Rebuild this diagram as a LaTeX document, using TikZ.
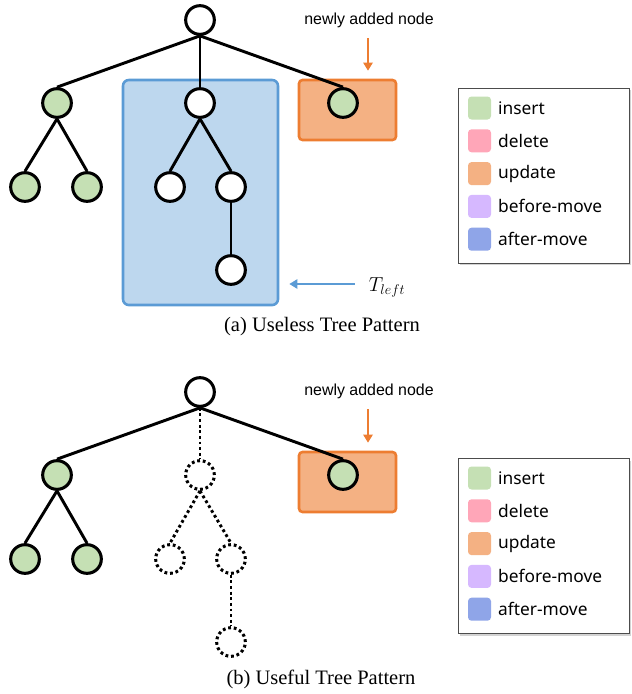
\documentclass[tikz,border=0pt]{standalone}
\usepackage{fontspec}
\setmainfont{Liberation Serif}
\newfontfamily\labelfont{Liberation Sans}
\newfontfamily\legendfont{Noto Sans}
\usetikzlibrary{positioning, arrows.meta, shadows, backgrounds}

\definecolor{insertcol}{HTML}{C5E0B4}
\definecolor{deletecol}{HTML}{FFA6B8}
\definecolor{updatecol}{HTML}{F4B183}
\definecolor{beforecol}{HTML}{D6B8FF}
\definecolor{aftercol}{HTML}{8FA5E8}
\definecolor{tleftfill}{HTML}{BDD7EE}
\definecolor{tleftline}{HTML}{5B9BD5}
\definecolor{updline}{HTML}{ED7D31}

\begin{document}
\begin{tikzpicture}[
		x=0.03cm, y=-0.03cm,
		% nodos del arbol
		tnode/.style = {circle, draw, line width=2.6pt, minimum size=0.86cm, inner sep=0pt, fill=white,
			drop shadow={shadow xshift=1.2pt, shadow yshift=-1.2pt, opacity=0.3}},
		ins/.style = {tnode, fill=insertcol},
		ghost/.style = {circle, draw, line width=2.6pt, dash pattern=on 2.4pt off 2.4pt, minimum size=0.86cm, inner sep=0pt},
		edge/.style = {line width=2.5pt},
		dotedge/.style = {line width=2.5pt, dash pattern=on 2.4pt off 2.4pt},
		% cajas
		tleftbox/.style = {draw=tleftline, fill=tleftfill, line width=2.2pt, rounded corners=5pt, minimum width=4.65cm, minimum height=6.75cm},
		updbox/.style = {draw=updline, fill=updatecol, line width=2.2pt, rounded corners=3pt, minimum width=2.91cm, minimum height=1.8cm},
		% leyenda
		legbox/.style = {draw=black!70, line width=0.8pt, fill=white, minimum width=5.13cm, minimum height=5.25cm,
			drop shadow={shadow xshift=2pt, shadow yshift=-2pt, opacity=0.35}},
		swatch/.style = {rectangle, rounded corners=3pt, minimum size=0.69cm, inner sep=0pt},
		legtext/.style = {font=\legendfont\fontsize{14.8}{17}\selectfont, inner sep=0pt},
		note/.style = {font=\labelfont\fontsize{13.6}{16}\selectfont},
		caption/.style = {font=\fontsize{17.5}{20}\selectfont},
		>={Triangle[width=8pt, length=7pt]}
		]
		\useasboundingbox (0,0) rectangle (631,694);
		
		% --- PARTE (a): Useless Tree Pattern ---
		\node [tleftbox] (useless) at (200.5,192.5) {};
		\node [updbox] (upd1) at (347.5,110) {};
		
		\node [tnode] (root1) at (200,20) {};
		\node [ins] (l1) at (57,103) {};
		\node [tnode] (m1) at (200,103) {};
		\node [ins] (r1) at (343,103) {};
		\node [ins] (ll1) at (25,187) {};
		\node [ins] (lr1) at (87,187) {};
		\node [tnode] (ml1) at (170,187) {};
		\node [tnode] (mr1) at (231,187) {};
		\node [tnode] (mb1) at (231,270) {};
		
		\draw [edge] (root1.south) -- (l1.north);
		\draw [edge] (root1.south) -- (m1.north);
		\draw [edge] (root1.south) -- (r1.north);
		\draw [edge] (l1.south) -- (ll1.north);
		\draw [edge] (l1.south) -- (lr1.north);
		\draw [edge] (m1.south) -- (ml1.north);
		\draw [edge] (m1.south) -- (mr1.north);
		\draw [edge] (mr1.south) -- (mb1.north);
		
		\node [note] (new1) at (369,20) {newly added node};
		\draw [->, draw=updline, fill=updline, line width=2pt, shorten <=0.2cm, shorten >=0.24cm] (new1.south -| 368,0) -- (upd1.north -| 368,0);
		
		\node [font=\fontsize{18}{20}\selectfont] (tleft) at (387,287) {$T_{left}$};
		\draw [->, draw=tleftline, fill=tleftline, line width=2pt, shorten <=0.3cm, shorten >=0.3cm] (tleft.west |- 0,284) -- (useless.east |- 0,284);
		
		\node [caption] (capa) at (322,327) {(a) Useless Tree Pattern};
		
		% leyenda (a)
		\node [legbox] (leg1) at (543.5,175.5) {};
		\node [swatch, fill=insertcol] (sa1) at (479.5,108) {};
		\node [swatch, fill=deletecol, below=0.28cm of sa1] (sb1) {};
		\node [swatch, fill=updatecol, below=0.28cm of sb1] (sc1) {};
		\node [swatch, fill=beforecol, below=0.28cm of sc1] (sd1) {};
		\node [swatch, fill=aftercol, below=0.28cm of sd1] (se1) {};
		\node [legtext, right=0.2cm of sa1] (ta1) {insert};
		\node [legtext, right=0.2cm of sb1] (tb1) {delete};
		\node [legtext, right=0.2cm of sc1] (tc1) {update};
		\node [legtext, right=0.2cm of sd1] (td1) {before-move};
		\node [legtext, right=0.2cm of se1] (te1) {after-move};
		
		% --- PARTE (b): Useful Tree Pattern ---
		\node [updbox] (upd2) at (347.5,482) {};
		
		\node [tnode] (root2) at (200,392) {};
		\node [ins] (l2) at (57,475) {};
		\node [ghost] (m2) at (200,475) {};
		\node [ins] (r2) at (343,475) {};
		\node [ins] (ll2) at (25,559) {};
		\node [ins] (lr2) at (87,559) {};
		\node [ghost] (ml2) at (170,559) {};
		\node [ghost] (mr2) at (231,559) {};
		\node [ghost] (mb2) at (231,642) {};
		
		\draw [edge] (root2.south) -- (l2.north);
		\draw [dotedge] (root2.south) -- (m2.north);
		\draw [edge] (root2.south) -- (r2.north);
		\draw [edge] (l2.south) -- (ll2.north);
		\draw [edge] (l2.south) -- (lr2.north);
		\draw [dotedge] (m2.south) -- (ml2.north);
		\draw [dotedge] (m2.south) -- (mr2.north);
		\draw [dotedge] (mr2.south) -- (mb2.north);
		
		\node [note] (new2) at (369,391) {newly added node};
		\draw [->, draw=updline, fill=updline, line width=2pt, shorten <=0.2cm, shorten >=0.24cm] (new2.south -| 368,0) -- (upd2.north -| 368,0);
		
		\node [caption] (capb) at (321,679) {(b) Useful Tree Pattern};
		
		% leyenda (b)
		\node [legbox] (leg2) at (543.5,546) {};
		\node [swatch, fill=insertcol] (sa2) at (479.5,478) {};
		\node [swatch, fill=deletecol, below=0.28cm of sa2] (sb2) {};
		\node [swatch, fill=updatecol, below=0.28cm of sb2] (sc2) {};
		\node [swatch, fill=beforecol, below=0.28cm of sc2] (sd2) {};
		\node [swatch, fill=aftercol, below=0.28cm of sd2] (se2) {};
		\node [legtext, right=0.2cm of sa2] (ta2) {insert};
		\node [legtext, right=0.2cm of sb2] (tb2) {delete};
		\node [legtext, right=0.2cm of sc2] (tc2) {update};
		\node [legtext, right=0.2cm of sd2] (td2) {before-move};
		\node [legtext, right=0.2cm of se2] (te2) {after-move};
		
	\end{tikzpicture}
\end{document}
